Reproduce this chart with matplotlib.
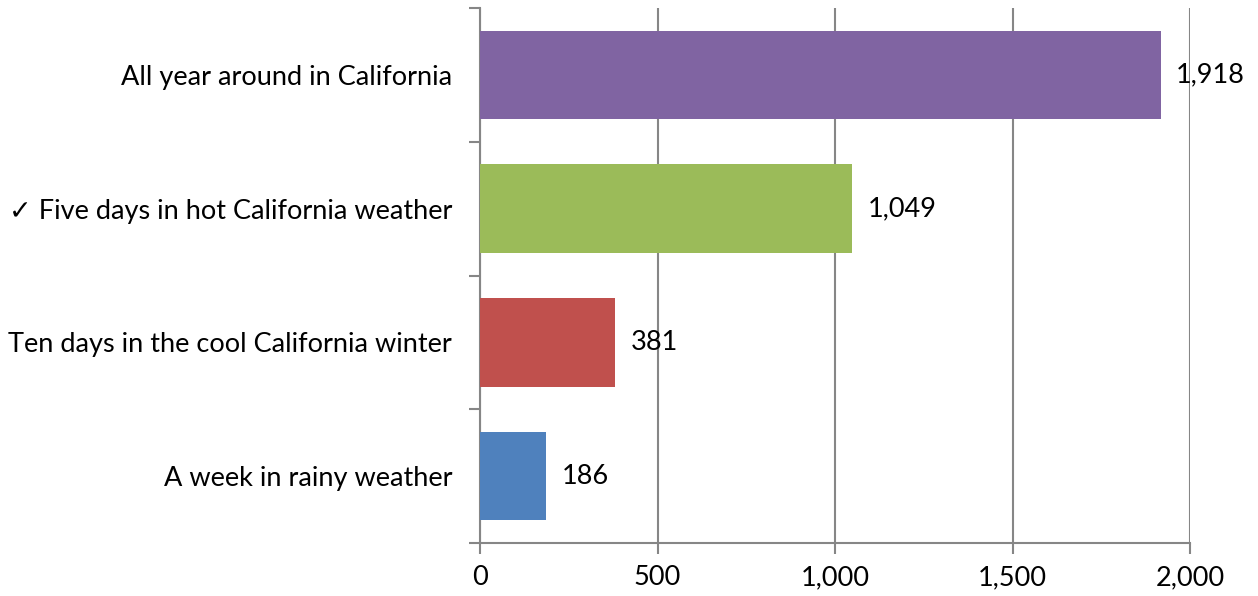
import matplotlib
matplotlib.use("Agg")
import matplotlib.pyplot as plt
from matplotlib.ticker import FuncFormatter, FixedLocator

categories = [
    "A week in rainy weather",
    "Ten days in the cool California winter",
    "\u2713 Five days in hot California weather",
    "All year around in California",
]
values = [186, 381, 1049, 1918]
colors = ["#4F81BD", "#C0504D", "#9BBB59", "#8064A2"]
x_ticks = [0, 500, 1000, 1500, 2000]

FONT = ["Lato", "DejaVu Sans"]
plt.rcParams["font.family"] = FONT
GRID = "#868686"
FS = 19.5

fig = plt.figure(figsize=(12.58, 5.96), dpi=100)
ax = fig.add_axes([480 / 1258, 53 / 596, 710 / 1258, 535 / 596])

ypos = list(range(len(categories)))
ax.barh(ypos, values, height=0.66, color=colors, zorder=3)

for y, v in zip(ypos, values):
    ax.annotate(f"{v:,}", xy=(v, y), xytext=(11, 0), textcoords="offset points",
                ha="left", va="center", fontsize=FS, color="black", zorder=4)

ax.set_xlim(0, 2000)
ax.set_ylim(-0.5, len(categories) - 0.5)

# x axis
ax.set_xticks(x_ticks)
ax.xaxis.set_major_formatter(FuncFormatter(lambda v, p: f"{int(v):,}"))
ax.tick_params(axis="x", direction="out", length=8, width=1.5, color=GRID,
               labelsize=FS, pad=8)
ax.grid(axis="x", color=GRID, linewidth=1.5, zorder=0)

# y axis: labels at bar centres, tick marks between categories
ax.set_yticks(ypos)
ax.set_yticklabels(categories)
ax.yaxis.set_minor_locator(FixedLocator([i - 0.5 for i in range(len(categories) + 1)]))
ax.tick_params(axis="y", which="major", length=0, labelsize=FS, pad=20)
ax.tick_params(axis="y", which="minor", direction="out", length=8, width=1.5, color=GRID)

for side in ("top", "right"):
    ax.spines[side].set_visible(False)
for side in ("left", "bottom"):
    ax.spines[side].set_color(GRID)
    ax.spines[side].set_linewidth(1.5)

fig.savefig("out.png", dpi=100)
